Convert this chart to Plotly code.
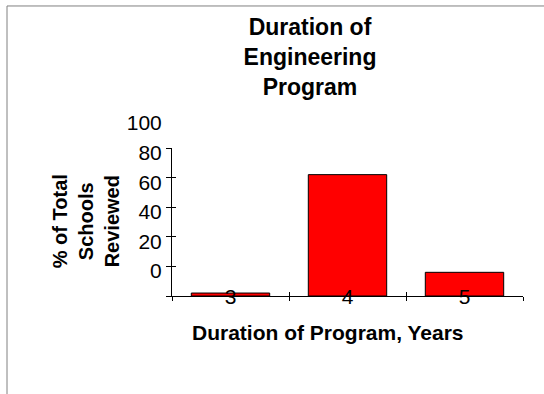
import plotly.graph_objects as go

# Program length categories and share of schools (%)
durations = ["3", "4", "5"]
share_pct = [2, 82, 16]
y_ticks = [0, 20, 40, 60, 80, 100]
x_bounds = [-0.5, 0.5, 1.5, 2.5]

FONT = "Arial, Liberation Sans, sans-serif"

W, H = 544, 394
L, R, T, B = 172, 21, 147.5, 98
pw = W - L - R
ph = H - T - B


def px_x(px):
    return (px - L) / pw


def px_y(py):
    return (H - B - py) / ph


fig = go.Figure()
fig.add_trace(go.Bar(
    x=durations, y=share_pct,
    marker=dict(color="#FF0000", line=dict(color="#000000", width=1)),
    showlegend=False, hoverinfo="x+y",
))
# empty trace so the overlay axes (crossing tick halves) get drawn
fig.add_trace(go.Scatter(x=[], y=[], xaxis="x2", yaxis="y2", showlegend=False))

fig.update_layout(
    width=W, height=H,
    margin=dict(l=L, r=R, t=T, b=B, autoexpand=False),
    paper_bgcolor="white", plot_bgcolor="white",
    font=dict(family=FONT, color="black"),
    bargap=0.33,
    title=dict(
        text="<b>Duration of<br>Engineering<br>Program</b>",
        font=dict(size=23, family=FONT, color="black"),
        xref="paper", x=px_x(310), xanchor="center",
        yref="container", y=1 - 35 / H, yanchor="top",
    ),
    xaxis=dict(
        type="category", range=[-0.5, 2.5],
        tickson="boundaries", ticks="outside", ticklen=4, tickcolor="black",
        showline=True, linecolor="black", linewidth=1,
        showgrid=False, zeroline=False,
        tickfont=dict(size=21, family=FONT, color="black"),
        ticklabelstandoff=-18,
    ),
    yaxis=dict(
        range=[0, 100], tickmode="array", tickvals=y_ticks,
        ticks="outside", ticklen=5, tickcolor="black",
        showline=True, linecolor="black", linewidth=1,
        showgrid=False, zeroline=False,
        tickfont=dict(size=21, family=FONT, color="black"),
        ticklabelshift=-25,
    ),
    xaxis2=dict(
        overlaying="x", anchor="y", range=[-0.5, 2.5],
        tickmode="array", tickvals=x_bounds,
        ticks="inside", ticklen=4, tickcolor="black",
        showticklabels=False, showgrid=False, zeroline=False, showline=False,
    ),
    yaxis2=dict(
        overlaying="y", anchor="x", range=[0, 100],
        tickmode="array", tickvals=y_ticks,
        ticks="inside", ticklen=4, tickcolor="black",
        showticklabels=False, showgrid=False, zeroline=False, showline=False,
    ),
    annotations=[
        dict(
            text="<b>% of Total<br>Schools<br>Reviewed</b>",
            textangle=-90, showarrow=False,
            xref="paper", yref="paper", x=px_x(86), y=px_y(221),
            xanchor="center", yanchor="middle",
            font=dict(size=20, family=FONT, color="black"),
        ),
        dict(
            text="<b>Duration of Program, Years</b>",
            showarrow=False,
            xref="paper", yref="paper", x=px_x(327.5), y=px_y(333),
            xanchor="center", yanchor="middle",
            font=dict(size=21, family=FONT, color="black"),
        ),
    ],
    shapes=[
        dict(type="line", xref="paper", yref="paper",
             x0=px_x(7), x1=px_x(W + 5), y0=px_y(5), y1=px_y(5),
             line=dict(color="#808080", width=1)),
        dict(type="line", xref="paper", yref="paper",
             x0=px_x(7), x1=px_x(7), y0=px_y(5), y1=px_y(H + 5),
             line=dict(color="#808080", width=1)),
    ],
)

fig.write_html("out.html")
